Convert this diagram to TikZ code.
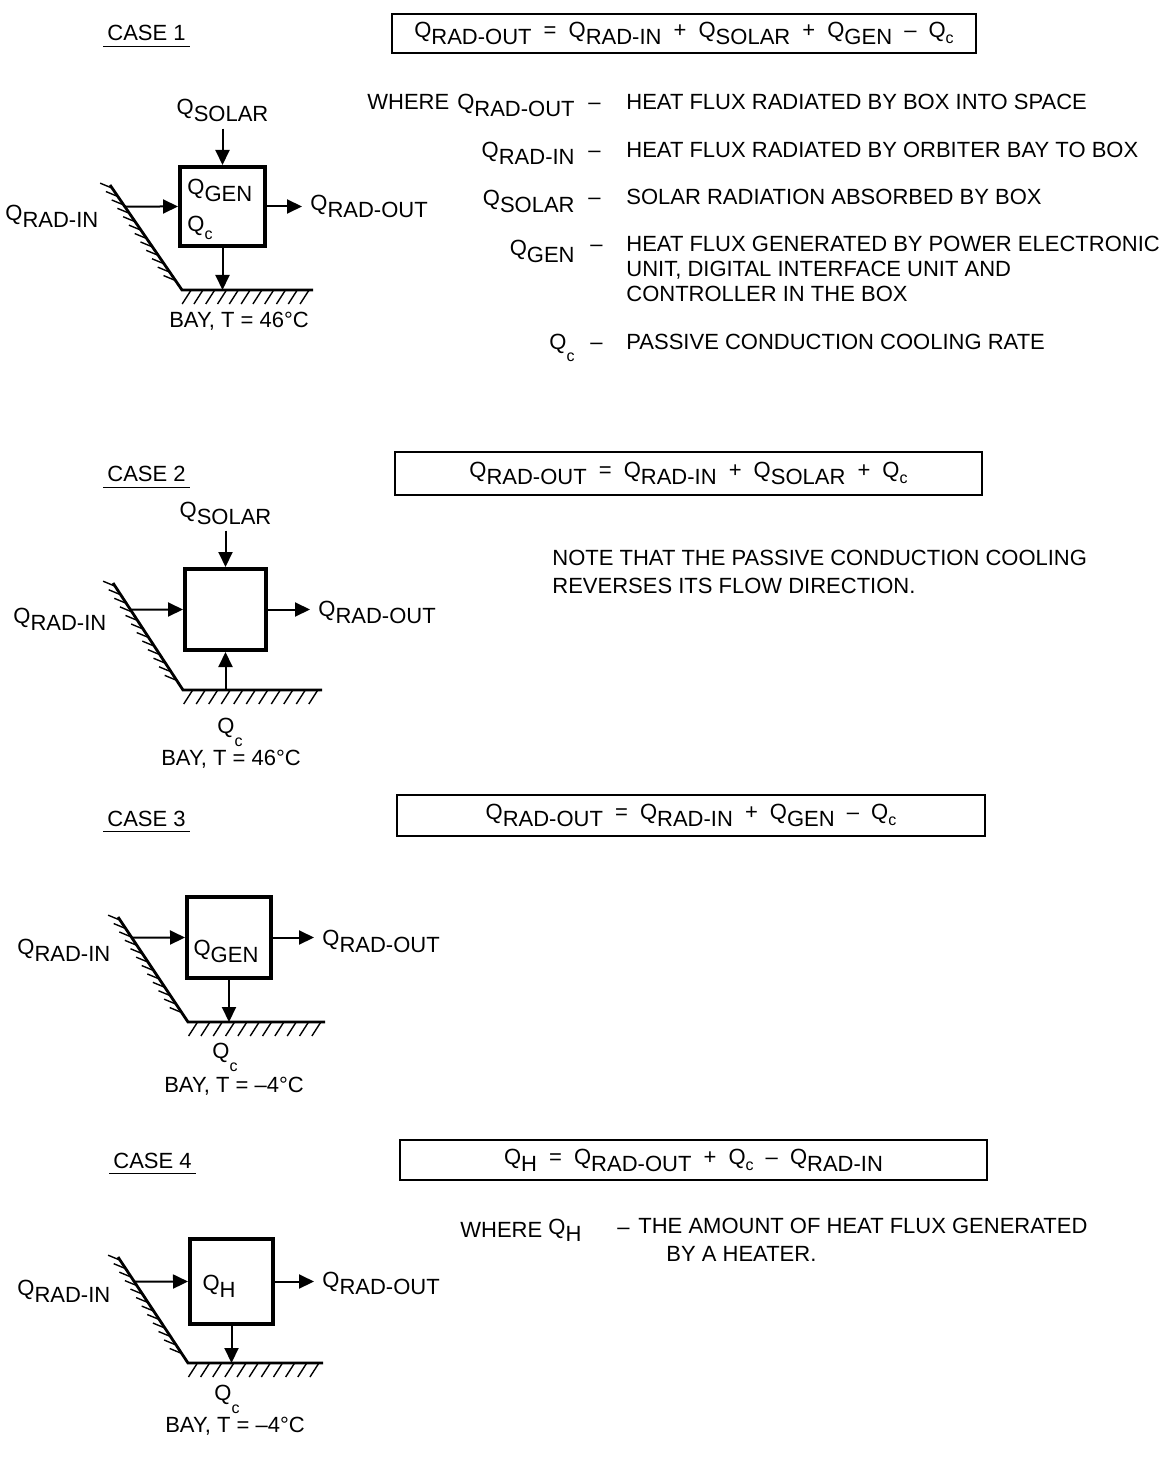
\documentclass[tikz,border=0pt]{standalone}
\usepackage{fontspec}
\setmainfont{Liberation Sans}
\usepackage{tikz}
\usetikzlibrary{arrows.meta,calc,positioning}

% Q with a lowered subscript, Q with a small lowered c, spaced operator
\newcommand{\Qs}[1]{Q\raisebox{-3.5pt}{#1}}
\newcommand{\Qc}[1][3pt]{Q\raisebox{-#1}{\fontsize{8}{9}\selectfont c}}
\newcommand{\op}[1]{\hspace{0.55em}#1\hspace{0.55em}}

\begin{document}
\begin{tikzpicture}[x=0.5pt, y=-0.5pt,
  font=\fontsize{11}{13}\selectfont,
  lbl/.style    ={inner sep=0pt},
  caselbl/.style={inner xsep=2pt, inner ysep=2.5pt, anchor=base west},
  uline/.style  ={line width=0.8pt},
  eqbox/.style  ={draw, line width=0.9pt, inner sep=0pt},
  heatbox/.style={draw, line width=2pt, inner sep=0pt},
  flux/.style   ={-{Triangle[length=7.5pt,width=7pt]}, line width=1pt},
  wall/.style   ={line width=1.4pt},
  hatch/.style  ={line width=0.7pt},
]
\useasboundingbox (0,0) rectangle (1159,1459);

% === bay walls (top of slope, corner, end of floor) ===
\coordinate (top1) at (110,185);   \coordinate (corner1) at (182,290);  \coordinate (end1) at (313,290);
\coordinate (top2) at (113,583);   \coordinate (corner2) at (183,690);  \coordinate (end2) at (322,690);
\coordinate (top3) at (118,917);   \coordinate (corner3) at (188,1022); \coordinate (end3) at (325,1022);
\coordinate (top4) at (118,1257);  \coordinate (corner4) at (188,1363); \coordinate (end4) at (323,1363);

% === CASE 1 ===
\node[caselbl] (case1) at (103,41) {CASE 1};
\draw[uline] (case1.south west) -- (case1.south east);

\node[eqbox, minimum width=292pt, minimum height=19.5pt] (eq1) at (684,33.5)
  {\Qs{RAD-OUT}\op{=}\Qs{RAD-IN}\op{+}\Qs{SOLAR}\op{+}\Qs{GEN}\op{–}\Qc};

\node[heatbox, minimum width=42.5pt, minimum height=39.5pt] (box1) at (222.5,206.5) {};
\node[lbl, anchor=base west] (gen1) at (187,195) {\Qs{GEN}};
\node[lbl, anchor=base west] (qc1) at (187,232) {\Qc[4pt]};
\node[lbl, anchor=base] (solar1) at (222.5,115) {\Qs{SOLAR}};
\node[lbl, anchor=base west] (radout1) at (310,211) {\Qs{RAD-OUT}};
\node[lbl, anchor=base west] (radin1) at (5,221) {\Qs{RAD-IN}};
\node[lbl, anchor=base] (bay1) at (239,328) {BAY, T = 46°C};

\coordinate (src1) at (intersection of top1--corner1 and box1.west--box1.east);
\coordinate (gnd1) at (box1.south |- corner1);
\draw[flux] (src1) -- (box1.west);
\draw[flux, shorten <=3pt] (solar1) -- (box1);
\draw[flux, shorten >=4pt] (box1.east) -- (box1.east -| radout1.west);
\draw[flux] (box1.south) -- (gnd1);

% definitions
\node[lbl, anchor=base west] (where1) at (367,110) {WHERE};
\node[lbl, anchor=base east] (symA) at (575,110) {\Qs{RAD-OUT}};
\node[lbl, anchor=base west] (dashA) at (588,110) {–};
\node[lbl, anchor=base west] (defA) at (626,110) {HEAT FLUX RADIATED BY BOX INTO SPACE};

\node[lbl, anchor=base east] (symB) at (575,158) {\Qs{RAD-IN}};
\node[lbl, anchor=base west] (dashB) at (588,158) {–};
\node[lbl, anchor=base west] (defB) at (626,158) {HEAT FLUX RADIATED BY ORBITER BAY TO BOX};

\node[lbl, anchor=base east] (symC) at (575,206) {\Qs{SOLAR}};
\node[lbl, anchor=base west] (dashC) at (588,205) {–};
\node[lbl, anchor=base west] (defC) at (626,205) {SOLAR RADIATION ABSORBED BY BOX};

\node[lbl, anchor=base east] (symD) at (575,256) {\Qs{GEN}};
\node[lbl, anchor=base west] (dashD) at (590,252) {–};
\node[lbl, anchor=base west, align=left, font=\fontsize{11}{12.5}\selectfont] (defD) at (626,302)
  {HEAT FLUX GENERATED BY POWER ELECTRONIC\\UNIT, DIGITAL INTERFACE UNIT AND\\CONTROLLER IN THE BOX};

\node[lbl, anchor=base east] (symE) at (575,350) {\Qc[6pt]};
\node[lbl, anchor=base west] (dashE) at (590,350) {–};
\node[lbl, anchor=base west] (defE) at (626,350) {PASSIVE CONDUCTION COOLING RATE};

% === CASE 2 ===
\node[caselbl] (case2) at (103,482) {CASE 2};
\draw[uline] (case2.south west) -- (case2.south east);

\node[eqbox, minimum width=293.5pt, minimum height=21.5pt] (eq2) at (688.5,473.5)
  {\Qs{RAD-OUT}\op{=}\Qs{RAD-IN}\op{+}\Qs{SOLAR}\op{+}\Qc};

\node[lbl, anchor=base west, align=left, font=\fontsize{11}{14}\selectfont] (note2) at (552,593)
  {NOTE THAT THE PASSIVE CONDUCTION COOLING\\REVERSES ITS FLOW DIRECTION.};

\node[heatbox, minimum width=40.5pt, minimum height=40.5pt] (box2) at (225.5,609.5) {};
\node[lbl, anchor=base] (solar2) at (225.5,517) {\Qs{SOLAR}};
\node[lbl, anchor=base west] (radout2) at (318,616) {\Qs{RAD-OUT}};
\node[lbl, anchor=base west] (radin2) at (13,623) {\Qs{RAD-IN}};
\node[lbl, anchor=base] (qc2) at (230,733) {\Qc[6.5pt]};
\node[lbl, anchor=base] (bay2) at (231,765) {BAY, T = 46°C};

\coordinate (src2) at (intersection of top2--corner2 and box2.west--box2.east);
\coordinate (gnd2) at (box2.south |- corner2);
\draw[flux] (src2) -- (box2.west);
\draw[flux, shorten <=3pt] (solar2) -- (box2);
\draw[flux, shorten >=4pt] (box2.east) -- (box2.east -| radout2.west);
\draw[flux] (gnd2) -- (box2.south);

% === CASE 3 ===
\node[caselbl] (case3) at (103,826) {CASE 3};
\draw[uline] (case3.south west) -- (case3.south east);

\node[eqbox, minimum width=294pt, minimum height=20.5pt] (eq3) at (691,815.5)
  {\Qs{RAD-OUT}\op{=}\Qs{RAD-IN}\op{+}\Qs{GEN}\op{–}\Qc};

\node[heatbox, minimum width=42pt, minimum height=40.5pt] (box3) at (229,937.5) {};
\node[lbl, anchor=base] (gen3) at (226,955) {\Qs{GEN}};
\node[lbl, anchor=base west] (radout3) at (322,945) {\Qs{RAD-OUT}};
\node[lbl, anchor=base west] (radin3) at (17,954) {\Qs{RAD-IN}};
\node[lbl, anchor=base] (qc3) at (225,1058) {\Qc[6.5pt]};
\node[lbl, anchor=base] (bay3) at (234,1092) {BAY, T = –4°C};

\coordinate (src3) at (intersection of top3--corner3 and box3.west--box3.east);
\coordinate (gnd3) at (box3.south |- corner3);
\draw[flux] (src3) -- (box3.west);
\draw[flux, shorten >=4pt] (box3.east) -- (box3.east -| radout3.west);
\draw[flux] (box3.south) -- (gnd3);

% === CASE 4 ===
\node[caselbl] (case4) at (109,1168) {CASE 4};
\draw[uline] (case4.south west) -- (case4.south east);

\node[eqbox, minimum width=293.5pt, minimum height=20pt] (eq4) at (693.5,1160)
  {\Qs{H}\op{=}\Qs{RAD-OUT}\op{+}\Qc\op{–}\Qs{RAD-IN}};

\node[lbl, anchor=base west] (where4) at (460,1237) {WHERE};
\node[lbl, anchor=base west] (symH) at (548,1234) {\Qs{H}};
\node[lbl, anchor=base west] (dashH) at (617,1234) {–};
\node[lbl, anchor=base west, align=left, font=\fontsize{11}{14}\selectfont] (defH) at (638,1261)
  {THE AMOUNT OF HEAT FLUX GENERATED\\\hspace*{14pt}BY A HEATER.};

\node[heatbox, minimum width=41.5pt, minimum height=42.5pt] (box4) at (231.5,1281.5) {};
\node[lbl, anchor=base] (qh4) at (219,1290) {\Qs{H}};
\node[lbl, anchor=base west] (radout4) at (322,1287) {\Qs{RAD-OUT}};
\node[lbl, anchor=base west] (radin4) at (17,1295) {\Qs{RAD-IN}};
\node[lbl, anchor=base] (qc4) at (227,1400) {\Qc[6.5pt]};
\node[lbl, anchor=base] (bay4) at (235,1432) {BAY, T = –4°C};

\coordinate (src4) at (intersection of top4--corner4 and box4.west--box4.east);
\coordinate (gnd4) at (box4.south |- corner4);
\draw[flux] (src4) -- (box4.west);
\draw[flux, shorten >=4pt] (box4.east) -- (box4.east -| radout4.west);
\draw[flux] (box4.south) -- (gnd4);

% === walls with hatching ===
\foreach \c in {1,...,4}{
  \draw[wall] (top\c) -- (corner\c) -- (end\c);
  \foreach \t in {0.03,0.11,...,0.96}
    \draw[hatch] ($(top\c)!\t!(corner\c)$) -- ++(-12,-5);
  \foreach \t in {0.07,0.16,...,1.0}
    \draw[hatch] ($(corner\c)!\t!(end\c)$) -- ++(-9,14);
}

\end{tikzpicture}
\end{document}
